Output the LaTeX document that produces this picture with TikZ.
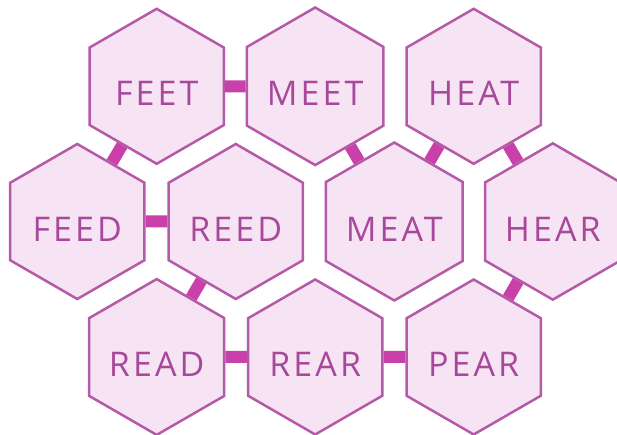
\documentclass[tikz,border=0pt]{standalone}
\usepackage{fontspec}
\newfontfamily\hexfont{Open Sans}[LetterSpace=9]
\usetikzlibrary{shapes.geometric}
\definecolor{hexfill}{HTML}{F6E4F4}
\definecolor{hexline}{HTML}{B55AA8}
\definecolor{barcol}{HTML}{C940AB}
\definecolor{hextext}{HTML}{A8489B}
\begin{document}
\begin{tikzpicture}[x=1pt,y=-1pt,
  hex/.style={regular polygon, regular polygon sides=6, shape border rotate=30,
    minimum size=155pt, inner sep=0pt, fill=hexfill, draw=hexline, line width=2.5pt,
    text=hextext, font=\hexfont\fontsize{34}{34}\selectfont,
    text height=39pt, text depth=0pt},
  bar/.style={draw=barcol, line width=12pt}]
\useasboundingbox (0,0) rectangle (617,435);
\node[hex] (feet) at (156.7,86.3) {FEET};
\node[hex] (meet) at (315.2,86.3) {MEET};
\node[hex] (heat) at (473.7,86.3) {HEAT};
\node[hex] (feed) at (77.3,221.5) {FEED};
\node[hex] (reed) at (235.8,221.5) {REED};
\node[hex] (meat) at (394.3,221.5) {MEAT};
\node[hex] (hear) at (552.8,221.5) {HEAR};
\node[hex] (read) at (156.7,357) {READ};
\node[hex] (rear) at (315.2,357) {REAR};
\node[hex] (pear) at (473.7,357) {PEAR};
\draw[bar] (feet) -- (meet);
\draw[bar] (feet) -- (feed);
\draw[bar] (feed) -- (reed);
\draw[bar] (reed) -- (read);
\draw[bar] (read) -- (rear);
\draw[bar] (rear) -- (pear);
\draw[bar] (pear) -- (hear);
\draw[bar] (hear) -- (heat);
\draw[bar] (heat) -- (meat);
\draw[bar] (meet) -- (meat);
\end{tikzpicture}
\end{document}
